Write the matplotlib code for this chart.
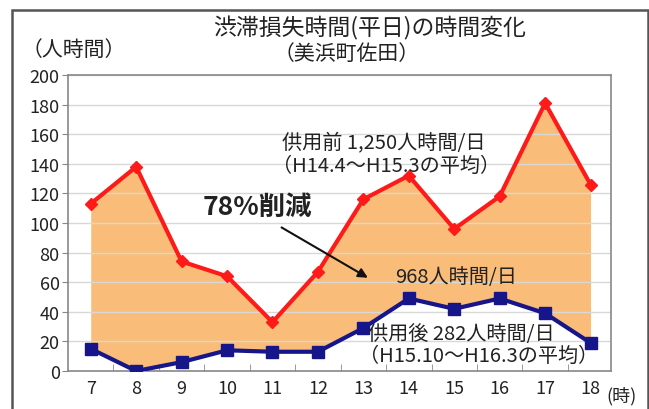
import matplotlib.pyplot as plt
from matplotlib.patches import Rectangle

plt.rcParams['font.family'] = ['Noto Sans CJK JP', 'DejaVu Sans']

hours = [7, 8, 9, 10, 11, 12, 13, 14, 15, 16, 17, 18]
before = [113, 138, 74, 64, 33, 67, 116, 132, 96, 118, 181, 126]
after = [15, 0, 6, 14, 13, 13, 29, 49, 42, 49, 39, 19]
y_ticks = [0, 20, 40, 60, 80, 100, 120, 140, 160, 180, 200]

fig = plt.figure(figsize=(6.49, 4.10), dpi=100)
ax = fig.add_axes([68 / 649, 38 / 410, 543 / 649, 296 / 410])

# orange band between the two lines
ax.fill_between(hours, after, before, color='#F9BD79', lw=0, zorder=1)
ax.plot(hours, before, color='#FF1A1A', lw=3, marker='D', ms=6,
        zorder=3, solid_joinstyle='miter')
ax.plot(hours, after, color='#17158A', lw=3, marker='s', ms=8.5, zorder=3)

ax.set_xlim(6.5, 18.45)
ax.set_ylim(0, 200)
ax.set_yticks(y_ticks)
ax.set_xticks(hours)
ax.set_xticks([h + 0.5 for h in hours[:-1]], minor=True)
ax.tick_params(axis='x', which='major', length=0, labelsize=13, pad=6,
               colors='#222222')
ax.tick_params(axis='x', which='minor', direction='in', length=5,
               color='#888888')
ax.tick_params(axis='y', length=4, color='#888888', labelsize=13,
               colors='#222222', pad=2)
ax.grid(axis='y', color='#D8D8D8', lw=1, zorder=0)
for s in ax.spines.values():
    s.set_color('#888888')
    s.set_linewidth(1.2)

# labels
txt = '#222222'
fig.text(370 / 649, 1 - 28 / 410, '渋滞損失時間(平日)の時間変化', ha='center',
         va='center', fontsize=16.5, color=txt)
fig.text(347 / 649, 1 - 54 / 410, '（美浜町佐田）', ha='center', va='center',
         fontsize=15, color=txt)
fig.text(74 / 649, 1 - 50 / 410, '（人時間）', ha='center', va='center',
         fontsize=15, color=txt)
fig.text(622 / 649, 1 - 396 / 410, '(時)', ha='center', va='center',
         fontsize=13, color=txt)

ax.text(11.22, 155, '供用前 1,250人時間/日', fontsize=14.5, color=txt,
        va='center')
ax.text(11.0, 139, '（H14.4～H15.3の平均）', fontsize=14.5, color=txt,
        va='center')
ax.text(15.05, 64, '968人時間/日', fontsize=14.5, color=txt,
        ha='center', va='center')
ax.text(13.1, 25, '供用後 282人時間/日', fontsize=14.5, color=txt,
        va='center')
ax.text(12.9, 10.5, '（H15.10～H16.3の平均）', fontsize=14.5, color=txt,
        va='center')
ax.text(9.46, 111, '78%削減', fontsize=19, fontweight='bold', color=txt,
        ha='left', va='center')
ax.annotate('', xy=(13.1, 63), xytext=(11.2, 97),
            arrowprops=dict(arrowstyle='-|>', color='#111111', lw=1.5,
                            mutation_scale=14, shrinkA=0, shrinkB=0))

# outer frame
fig.patches.append(Rectangle((12 / 649, -0.05), 636 / 649, 1.05 - 11 / 410,
                             transform=fig.transFigure, fill=False,
                             ec='#555555', lw=1.8))

fig.savefig('out.png', dpi=100)
